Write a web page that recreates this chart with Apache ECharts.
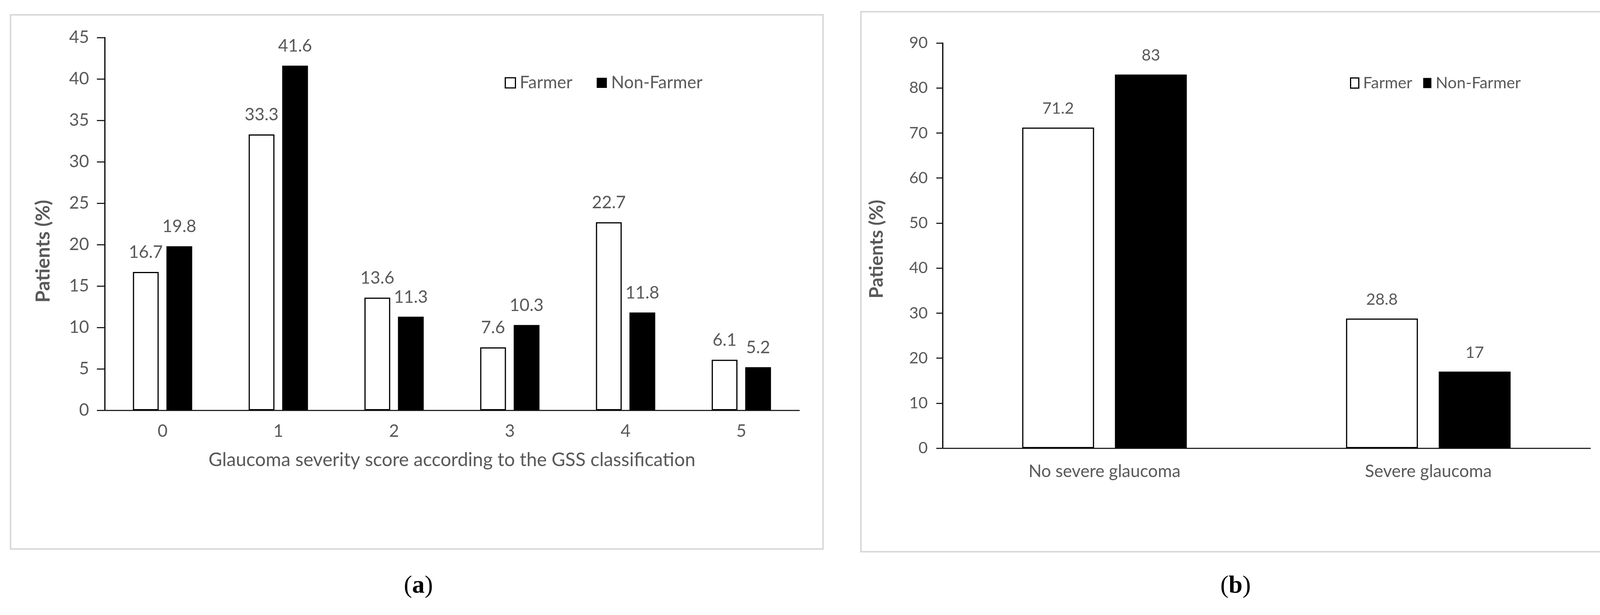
<!DOCTYPE html>
<html>

<head>
    <meta charset="utf-8">
    <title>Glaucoma severity</title>
    <script src="https://cdn.jsdelivr.net/npm/echarts@6/dist/echarts.min.js"></script>
    <style>
        html, body { margin: 0; padding: 0; background: #fff; }
    </style>
</head>

<body>
    <div id="main" style="width: 4145px;height: 1574px;"></div>
    <script type="text/javascript">

        // panel (a): GSS score
        var gssScores = ['0', '1', '2', '3', '4', '5'];
        var farmerA = [16.7, 33.3, 13.6, 7.6, 22.7, 6.1];
        var nonFarmerA = [19.8, 41.6, 11.3, 10.3, 11.8, 5.2];

        // panel (b): severe or not
        var severityGroups = ['No severe glaucoma', 'Severe glaucoma'];
        var farmerB = [71.2, 28.8];
        var nonFarmerB = [83, 17];

        var seriesNames = ['Farmer', 'Non-Farmer'];

        var gray = '#595959';
        var font = 'Lato';

        var myChart = echarts.init(document.getElementById('main'));

        function legendData(w) {
            return [
                { name: seriesNames[0], itemStyle: { color: '#fff', borderColor: '#000', borderWidth: w } },
                { name: seriesNames[1], itemStyle: { color: '#000', borderWidth: 0 } }
            ];
        }

        var option = {
            backgroundColor: '#fff',
            animation: false,
            textStyle: { fontFamily: font },
            graphic: [
                // frames round the two panels
                { type: 'rect', shape: { x: 27, y: 38, width: 2080, height: 1367 },
                  style: { fill: 'none', stroke: '#d9d9d9', lineWidth: 4 } },
                { type: 'rect', shape: { x: 2204, y: 30, width: 1914, height: 1382 },
                  style: { fill: 'none', stroke: '#d9d9d9', lineWidth: 4 } },
                { type: 'text', x: 1071, y: 1500,
                  style: { text: '({b|a})', fontFamily: 'Liberation Serif', fontSize: 64, fill: '#000',
                           align: 'center', verticalAlign: 'middle',
                           rich: { b: { fontWeight: 'bold', fontFamily: 'Liberation Serif', fontSize: 64 } } } },
                { type: 'text', x: 3163, y: 1500,
                  style: { text: '({b|b})', fontFamily: 'Liberation Serif', fontSize: 64, fill: '#000',
                           align: 'center', verticalAlign: 'middle',
                           rich: { b: { fontWeight: 'bold', fontFamily: 'Liberation Serif', fontSize: 64 } } } }
            ],
            legend: [
                {
                    left: 1292, top: 190, icon: 'rect', padding: 0,
                    itemWidth: 26, itemHeight: 26, itemGap: 62,
                    textStyle: { color: gray, fontSize: 44, fontFamily: font, padding: [0, 0, 0, 6] },
                    data: legendData(3)
                },
                {
                    left: 3456, top: 192, icon: 'rect', padding: 0,
                    itemWidth: 21, itemHeight: 26, itemGap: 28,
                    textStyle: { color: gray, fontSize: 41, fontFamily: font, padding: [0, 0, 0, 6] },
                    data: legendData(3)
                }
            ],
            grid: [
                { left: 268, right: 2099, top: 96, bottom: 524 },
                { left: 2413, right: 74, top: 110, bottom: 427 }
            ],
            xAxis: [
                {
                    type: 'category', gridIndex: 0, data: gssScores,
                    name: 'Glaucoma severity score according to the GSS classification',
                    nameLocation: 'middle', nameGap: 104,
                    nameTextStyle: { color: gray, fontSize: 48, fontFamily: font },
                    axisLine: { lineStyle: { color: '#262626', width: 3 } },
                    axisTick: { show: false },
                    axisLabel: { color: gray, fontSize: 44, margin: 32 }
                },
                {
                    type: 'category', gridIndex: 1, data: severityGroups,
                    axisLine: { lineStyle: { color: '#262626', width: 3 } },
                    axisTick: { show: false },
                    axisLabel: { color: gray, fontSize: 44, margin: 38 }
                }
            ],
            yAxis: [
                {
                    type: 'value', gridIndex: 0, min: 0, max: 45, interval: 5,
                    name: 'Patients (%)', nameLocation: 'middle', nameRotate: 90, nameGap: 132,
                    nameTextStyle: { color: gray, fontSize: 50, fontWeight: 'bold', fontFamily: font,
                                     padding: [0, 140, 0, 0] },
                    axisLine: { show: true, lineStyle: { color: '#000', width: 3 } },
                    axisTick: { show: true, length: 20, lineStyle: { color: '#262626', width: 3 } },
                    axisLabel: { color: gray, fontSize: 44, margin: 40 },
                    splitLine: { show: false }
                },
                {
                    type: 'value', gridIndex: 1, min: 0, max: 90, interval: 10,
                    name: 'Patients (%)', nameLocation: 'middle', nameRotate: 90, nameGap: 144,
                    nameTextStyle: { color: gray, fontSize: 48, fontWeight: 'bold', fontFamily: font,
                                     padding: [0, 18, 0, 0] },
                    axisLine: { show: true, lineStyle: { color: '#000', width: 3 } },
                    axisTick: { show: true, length: 16, lineStyle: { color: '#262626', width: 3 } },
                    axisLabel: { color: gray, fontSize: 41, margin: 38 },
                    splitLine: { show: false }
                }
            ],
            series: [
                {
                    name: seriesNames[0], type: 'bar', xAxisIndex: 0, yAxisIndex: 0,
                    data: farmerA, barWidth: 66, barGap: '30%',
                    itemStyle: { color: '#fff', borderColor: '#000', borderWidth: 3 },
                    label: { show: true, position: 'top', distance: 28, color: gray, fontSize: 44 }
                },
                {
                    name: seriesNames[1], type: 'bar', xAxisIndex: 0, yAxisIndex: 0,
                    data: nonFarmerA, barWidth: 66, barGap: '30%',
                    itemStyle: { color: '#000' },
                    label: { show: true, position: 'top', distance: 28, color: gray, fontSize: 44 }
                },
                {
                    name: seriesNames[0], type: 'bar', xAxisIndex: 1, yAxisIndex: 1,
                    data: farmerB, barWidth: 184, barGap: '29%',
                    itemStyle: { color: '#fff', borderColor: '#000', borderWidth: 3 },
                    label: { show: true, position: 'top', distance: 28, color: gray, fontSize: 41 }
                },
                {
                    name: seriesNames[1], type: 'bar', xAxisIndex: 1, yAxisIndex: 1,
                    data: nonFarmerB, barWidth: 184, barGap: '29%',
                    itemStyle: { color: '#000' },
                    label: { show: true, position: 'top', distance: 28, color: gray, fontSize: 41 }
                }
            ]
        };

        myChart.setOption(option);
        window.onresize = myChart.resize;
    </script>
</body>

</html>
